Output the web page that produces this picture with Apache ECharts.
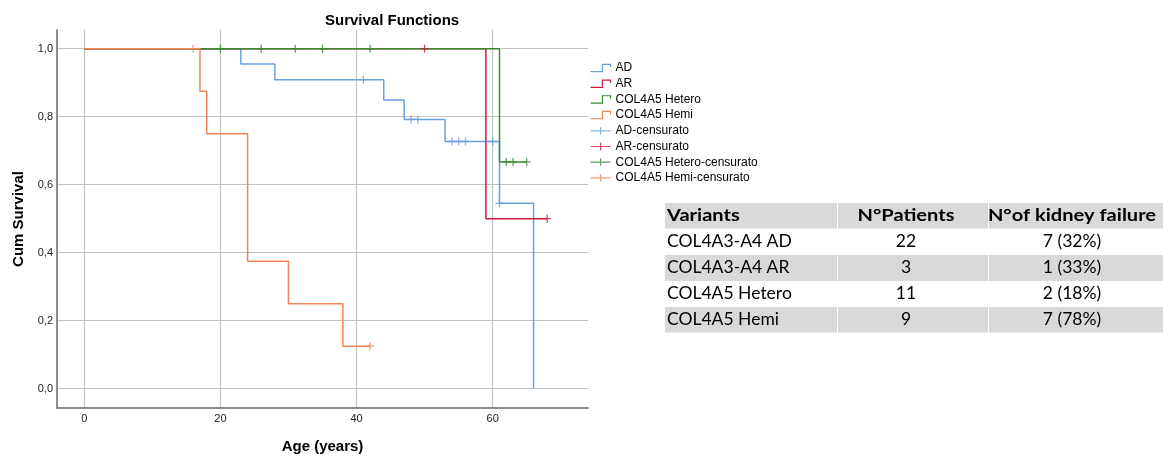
<!DOCTYPE html>
<html>
<head>
<meta charset="utf-8">
<script src="https://cdn.jsdelivr.net/npm/echarts@6/dist/echarts.min.js"></script>
<style>
  html, body { margin: 0; padding: 0; background: #fff; }
  #chart { width: 1163px; height: 456px; }
</style>
</head>
<body>
<div id="chart"></div>
<script>
// Kaplan-Meier steps (time in years, cumulative survival)
var adTimes = [0, 23, 28, 44, 47, 53, 61, 66];
var adSurv = [1, 0.955, 0.909, 0.849, 0.792, 0.727, 0.545, 0];
var adCensored = [41, 48, 49, 54, 55, 56, 60, 61];

var arTimes = [0, 59, 68];
var arSurv = [1, 0.5, 0.5];
var arCensored = [50, 68];

var heteroTimes = [0, 61, 65];
var heteroSurv = [1, 0.667, 0.667];
var heteroCensored = [20, 26, 31, 35, 42, 62, 63, 65];

var hemiTimes = [0, 17, 18, 24, 30, 38, 42];
var hemiSurv = [1, 0.875, 0.75, 0.375, 0.25, 0.125, 0.125];
var hemiCensored = [16, 42];

var xTicks = [0, 20, 40, 60];
var yTicks = [0, 0.2, 0.4, 0.6, 0.8, 1.0];

// table
var tableHeader = ['Variants', 'N°Patients', 'N°of kidney failure'];
var variants = ['COL4A3-A4 AD', 'COL4A3-A4 AR', 'COL4A5 Hetero', 'COL4A5 Hemi'];
var patients = ['22', '3', '11', '9'];
var failures = ['7 (32%)', '1 (33%)', '2 (18%)', '7 (78%)'];

var colors = {
    AD: '#6b9fdc',
    AR: '#cc1a3c',
    Hetero: '#3a8a36',
    Hemi: '#ef8756'
};

function pairs(t, s) {
    return t.map(function (v, i) { return [v, s[i]]; });
}
function survAt(t, s, x) {
    var v = s[0];
    for (var i = 0; i < t.length; i++) { if (t[i] <= x) v = s[i]; }
    return v;
}
function censorPoints(c, t, s) {
    return c.map(function (x) { return [x, survAt(t, s, x)]; });
}

var stepIcon = 'path://M0,8H13V0H22V3';
var plusIcon = 'path://M0,4H22M11,0V8';
var plusSymbol = 'path://M0,4H8M4,0V8';

function stepSeries(name, t, s, c) {
    return {
        name: name,
        type: 'line',
        step: 'end',
        symbol: 'none',
        data: pairs(t, s),
        lineStyle: { color: c, width: 1.5 },
        itemStyle: { color: c },
        emphasis: { disabled: true }
    };
}
function censorSeries(name, pts, c) {
    return {
        name: name,
        type: 'scatter',
        symbol: plusSymbol,
        symbolSize: 8,
        data: pts,
        z: 3,
        itemStyle: { color: 'rgba(0,0,0,0)', borderColor: c, borderWidth: 1.3 },
        emphasis: { disabled: true }
    };
}
function legendItem(name, icon, c) {
    return {
        name: name,
        icon: icon,
        itemStyle: { color: 'rgba(0,0,0,0)', borderColor: c, borderWidth: 1.2 }
    };
}

// table graphics
var tableGraphics = [];
var colX = [665, 837, 988, 1163];
var rowY = [203, 228.5, 255, 281, 307, 332.5];
var tableRows = [tableHeader].concat(variants.map(function (v, i) {
    return [v, patients[i], failures[i]];
}));
tableRows.forEach(function (row, r) {
    var gray = (r % 2 === 0);
    row.forEach(function (txt, c) {
        if (gray) {
            tableGraphics.push({
                type: 'rect',
                shape: { x: colX[c] + (c > 0 ? 1 : 0), y: rowY[r], width: colX[c + 1] - colX[c] - (c > 0 ? 1 : 0), height: rowY[r + 1] - rowY[r] },
                style: { fill: '#d9d9d9' }
            });
        }
        var tx = c === 0 ? colX[0] + 2 : (c === 1 ? 906 : 1072);
        tableGraphics.push({
            type: 'text',
            x: tx,
            y: (rowY[r] + rowY[r + 1]) / 2,
            scaleX: r === 0 ? 1.18 : 1.03,
            style: {
                text: txt,
                fontFamily: 'Lato',
                fontSize: 17,
                fontWeight: r === 0 ? 'bold' : 'normal',
                fill: '#000',
                align: c === 0 ? 'left' : 'center',
                verticalAlign: 'middle'
            }
        });
    });
});

var option = {
    animation: false,
    title: {
        text: 'Survival Functions',
        left: 320,
        top: 8,
        textStyle: { fontFamily: 'Liberation Sans', fontSize: 15, fontWeight: 'bold', color: '#000' }
    },
    legend: {
        orient: 'vertical',
        left: 585,
        top: 57,
        itemWidth: 20,
        itemHeight: 8,
        itemGap: 3.7,
        selectedMode: false,
        textStyle: { fontFamily: 'Liberation Sans', fontSize: 12, color: '#000', lineHeight: 11 },
        data: [
            legendItem('AD', stepIcon, colors.AD),
            legendItem('AR', stepIcon, colors.AR),
            legendItem('COL4A5 Hetero', stepIcon, colors.Hetero),
            legendItem('COL4A5 Hemi', stepIcon, colors.Hemi),
            legendItem('AD-censurato', plusIcon, colors.AD),
            legendItem('AR-censurato', plusIcon, colors.AR),
            legendItem('COL4A5 Hetero-censurato', plusIcon, colors.Hetero),
            legendItem('COL4A5 Hemi-censurato', plusIcon, colors.Hemi)
        ]
    },
    grid: { left: 57, top: 30, right: 575, bottom: 48, containLabel: false, outerBoundsMode: 'none' },
    xAxis: {
        type: 'value',
        min: -4,
        max: 74,
        name: 'Age (years)',
        nameLocation: 'middle',
        nameGap: 31,
        nameTextStyle: { fontFamily: 'Liberation Sans', fontSize: 15, fontWeight: 'bold', color: '#000' },
        axisLine: { show: true, onZero: false, lineStyle: { color: '#666', width: 1.5 } },
        axisTick: { show: false, customValues: xTicks },
        axisLabel: { customValues: xTicks, margin: 5, fontFamily: 'Liberation Sans', fontSize: 11, color: '#222' },
        splitLine: { show: true, lineStyle: { color: '#c4c4c4', width: 1.2 } }
    },
    yAxis: {
        type: 'value',
        min: -0.057,
        max: 1.055,
        name: 'Cum Survival',
        nameLocation: 'middle',
        nameRotate: 90,
        nameGap: 31,
        nameTextStyle: { fontFamily: 'Liberation Sans', fontSize: 15, fontWeight: 'bold', color: '#000' },
        axisLine: { show: true, onZero: false, lineStyle: { color: '#666', width: 1.5 } },
        axisTick: { show: false, customValues: yTicks },
        axisLabel: {
            customValues: yTicks,
            margin: 4,
            fontFamily: 'Liberation Sans',
            fontSize: 11,
            color: '#222',
            formatter: function (v) { return v.toFixed(1).replace('.', ','); }
        },
        splitLine: { show: true, lineStyle: { color: '#c4c4c4', width: 1.2 } }
    },
    series: [
        stepSeries('AD', adTimes, adSurv, colors.AD),
        stepSeries('AR', arTimes, arSurv, colors.AR),
        stepSeries('COL4A5 Hetero', heteroTimes, heteroSurv, colors.Hetero),
        stepSeries('COL4A5 Hemi', hemiTimes, hemiSurv, colors.Hemi),
        censorSeries('AD-censurato', censorPoints(adCensored, adTimes, adSurv), colors.AD),
        censorSeries('AR-censurato', censorPoints(arCensored, arTimes, arSurv), colors.AR),
        censorSeries('COL4A5 Hetero-censurato', censorPoints(heteroCensored, heteroTimes, heteroSurv), colors.Hetero),
        censorSeries('COL4A5 Hemi-censurato', censorPoints(hemiCensored, hemiTimes, hemiSurv), colors.Hemi)
    ],
    graphic: tableGraphics
};

var myChart = echarts.init(document.getElementById('chart'));
myChart.setOption(option);
</script>
</body>
</html>
